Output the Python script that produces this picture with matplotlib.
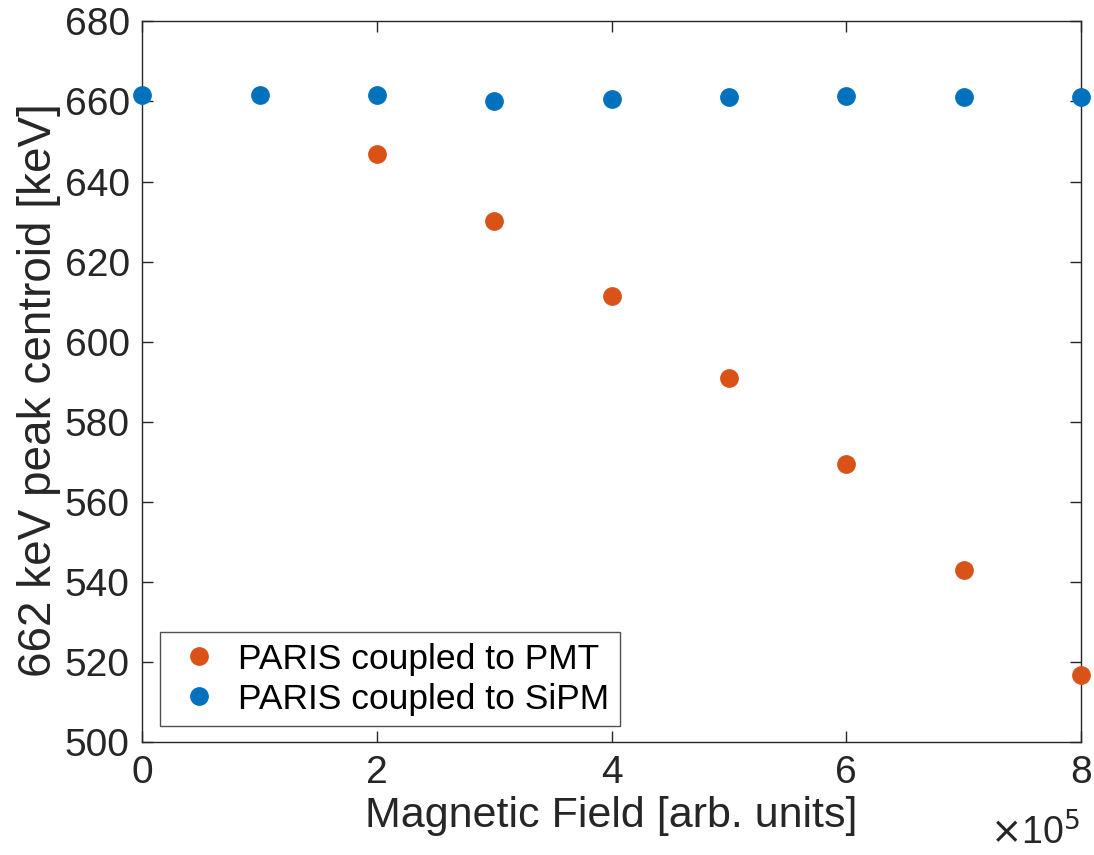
import numpy as np
import matplotlib.pyplot as plt

plt.rcParams['font.family'] = ['Liberation Sans', 'DejaVu Sans']

field = np.array([0, 1, 2, 3, 4, 5, 6, 7, 8]) * 1e5

# 662 keV peak centroid [keV]
pmt_field = np.array([2, 3, 4, 5, 6, 7, 8]) * 1e5
pmt_centroid = [646.8, 630.1, 611.5, 591.0, 569.5, 543.1, 516.7]
sipm_centroid = [661.5, 661.5, 661.5, 660.2, 660.7, 661.0, 661.4, 661.2, 661.0]

orange = '#D95319'
blue = '#0072BD'

fig = plt.figure(figsize=(10.94, 8.55), dpi=100)
ax = fig.add_axes([0.130, 0.132, 0.858, 0.843])

ax.plot(pmt_field, pmt_centroid, 'o', color=orange, markersize=12.5,
        label='PARIS coupled to PMT', clip_on=False, zorder=3)
ax.plot(field, sipm_centroid, 'o', color=blue, markersize=12.5,
        label='PARIS coupled to SiPM', clip_on=False, zorder=3)

ax.set_xlim(0, 8e5)
ax.set_ylim(500, 680)
ax.set_xticks(np.arange(0, 9, 2) * 1e5)
ax.set_xticklabels(['0', '2', '4', '6', '8'])
ax.set_yticks(np.arange(500, 681, 20))

ax.tick_params(direction='in', top=True, right=True, labelsize=28,
               length=8, width=1, colors='#262626', pad=9)
for s in ax.spines.values():
    s.set_color('#262626')
    s.set_linewidth(1)

ax.set_xlabel('Magnetic Field [arb. units]', fontsize=31, color='#262626', labelpad=4)
ax.set_ylabel('662 keV peak centroid [keV]', fontsize=33, color='#262626')
ax.yaxis.set_label_coords(-0.086, 0.488)

fig.text(0.905, 0.004, r'$\times$10$^5$', fontsize=27, color='#262626',
         ha='left', va='bottom')

leg = ax.legend(loc='lower left', bbox_to_anchor=(0.019, 0.022), fontsize=25.5,
                frameon=True, fancybox=False, edgecolor='#262626',
                borderaxespad=0, handletextpad=0.3, borderpad=0.3,
                labelspacing=0.2, handlelength=1.6)
leg.get_frame().set_linewidth(1)

fig.savefig('out.png', dpi=100)
